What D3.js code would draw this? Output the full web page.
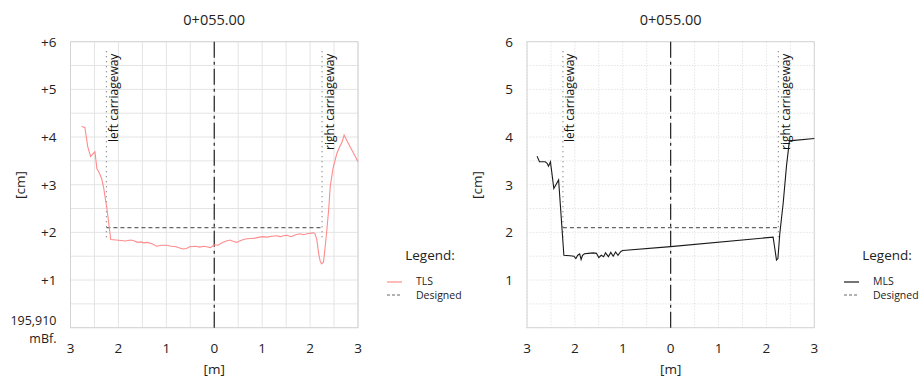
<!DOCTYPE html>
<html>
<head>
<meta charset="utf-8">
<script src="https://cdn.jsdelivr.net/npm/d3@7"></script>
<style>
  body { margin: 0; background: #fff; }
  svg { font-family: "Open Sans", sans-serif; display: block; }
</style>
</head>
<body>
<svg id="chart" width="921" height="378"></svg>
<script>
// cross-section 0+055.00, offsets in metres, heights in cm above 195,910 mBf.
const stationLabel = '0+055.00';
const xTicks = [-3, -2, -1, 0, 1, 2, 3];
const yTicks = [1, 2, 3, 4, 5, 6];
const carriageEdges = [-2.25, 2.25];
const designedLevel = 2.1;

const tlsX = [-2.77, -2.70, -2.64, -2.58, -2.52, -2.49, -2.45, -2.40, -2.35, -2.31, -2.28, -2.24, -2.21,
  -2.16, -2.05, -1.95, -1.85, -1.75, -1.69, -1.60, -1.52, -1.48, -1.40, -1.30, -1.20, -1.10, -0.99,
  -0.90, -0.80, -0.72, -0.65, -0.58, -0.51, -0.40, -0.30, -0.22, -0.16, -0.08, 0.00, 0.08, 0.16,
  0.25, 0.33, 0.40, 0.47, 0.55, 0.65, 0.75, 0.85, 0.95, 1.02, 1.10, 1.20, 1.30, 1.38, 1.44, 1.52,
  1.60, 1.70, 1.79, 1.86, 1.94, 2.00, 2.07, 2.10, 2.14, 2.18, 2.21, 2.24, 2.28, 2.31, 2.35, 2.39,
  2.42, 2.48, 2.56, 2.62, 2.67, 2.71, 2.78, 2.86, 2.93, 3.00];
const tlsY = [4.22, 4.20, 3.80, 3.59, 3.66, 3.69, 3.34, 3.25, 3.13, 2.95, 2.75, 2.50, 2.26,
  1.85, 1.84, 1.83, 1.82, 1.84, 1.83, 1.79, 1.80, 1.78, 1.79, 1.76, 1.71, 1.73, 1.73,
  1.71, 1.70, 1.67, 1.65, 1.66, 1.70, 1.71, 1.69, 1.71, 1.70, 1.68, 1.74, 1.73, 1.78,
  1.82, 1.84, 1.81, 1.79, 1.83, 1.86, 1.87, 1.88, 1.90, 1.91, 1.90, 1.92, 1.93, 1.91, 1.93, 1.94,
  1.91, 1.95, 1.97, 1.95, 1.97, 1.98, 1.99, 1.98, 1.85, 1.55, 1.40, 1.34, 1.38, 1.65, 2.05, 2.50,
  2.96, 3.35, 3.66, 3.80, 3.90, 4.04, 3.90, 3.75, 3.62, 3.48];

const mlsX = [-2.79, -2.74, -2.62, -2.58, -2.55, -2.51, -2.44, -2.34, -2.23, -2.10, -2.02, -1.98, -1.94,
  -1.90, -1.87, -1.84, -1.80, -1.72, -1.62, -1.55, -1.50, -1.45, -1.40, -1.36, -1.30, -1.25, -1.20,
  -1.15, -1.10, -1.04, -1.00, 0.00, 2.14, 2.18, 2.21, 2.24, 2.28, 2.35, 2.42, 2.48, 3.00];
const mlsY = [3.60, 3.48, 3.48, 3.45, 3.39, 3.48, 2.92, 3.10, 1.52, 1.51, 1.50, 1.45, 1.52,
  1.55, 1.43, 1.52, 1.55, 1.56, 1.57, 1.56, 1.47, 1.52, 1.49, 1.57, 1.49, 1.58, 1.50,
  1.59, 1.52, 1.60, 1.62, 1.70, 1.90, 1.63, 1.42, 1.45, 1.98, 2.61, 3.40, 3.92, 3.97];

const panels = [
  { left: 70.5, right: 358, xs: tlsX, ys: tlsY, name: 'TLS', color: '#ff8c8c', signed: true,
    grid: null, axisLabelX: 20, legendX: 387 },
  { left: 527, right: 814.3, xs: mlsX, ys: mlsY, name: 'MLS', color: '#1a1a1a', signed: false,
    grid: '1.5,1.5', axisLabelX: 477, legendX: 844 },
];

const plotTop = 41.7;
const plotBottom = 327.7;
const svg = d3.select('#chart');

panels.forEach((p) => {
  const x = d3.scaleLinear().domain([-3, 3]).range([p.left, p.right]);
  const y = d3.scaleLinear().domain([0, 6]).range([plotBottom, plotTop]);
  const g = svg.append('g');
  const midX = x(0);

  // grid every 0.5
  const gridVals = d3.range(-3, 3.01, 0.5);
  g.selectAll('.vgrid').data(gridVals).join('line')
    .attr('x1', (d) => x(d)).attr('x2', (d) => x(d))
    .attr('y1', plotTop).attr('y2', plotBottom)
    .attr('stroke', '#e4e4e4').attr('stroke-width', 1)
    .attr('stroke-dasharray', p.grid);
  g.selectAll('.hgrid').data(d3.range(0, 6.01, 0.5)).join('line')
    .attr('x1', p.left).attr('x2', p.right)
    .attr('y1', (d) => y(d)).attr('y2', (d) => y(d))
    .attr('stroke', '#e4e4e4').attr('stroke-width', 1)
    .attr('stroke-dasharray', p.grid);
  g.append('rect')
    .attr('x', p.left).attr('y', plotTop)
    .attr('width', p.right - p.left).attr('height', plotBottom - plotTop)
    .attr('fill', 'none').attr('stroke', '#d4d4d4');

  // axes as text labels
  g.selectAll('.xt').data(xTicks).join('text')
    .attr('x', (d) => x(d)).attr('y', 353)
    .attr('text-anchor', 'middle').attr('font-size', 13.5).attr('fill', '#222')
    .text((d) => Math.abs(d));
  g.selectAll('.yt').data(yTicks).join('text')
    .attr('x', p.left - 14).attr('y', (d) => y(d) + 5)
    .attr('text-anchor', 'end').attr('font-size', 13.5).attr('fill', '#222')
    .text((d) => (p.signed ? '+' : '') + d);
  if (p.signed) {
    g.append('text').attr('x', p.left - 14).attr('y', 325)
      .attr('text-anchor', 'end').attr('font-size', 12.5).attr('fill', '#222').text('195,910');
    g.append('text').attr('x', p.left - 14).attr('y', 343)
      .attr('text-anchor', 'end').attr('font-size', 12.5).attr('fill', '#222').text('mBf.');
  }
  g.append('text').attr('x', midX).attr('y', 374)
    .attr('text-anchor', 'middle').attr('font-size', 13.5).attr('fill', '#222').text('[m]');
  g.append('text')
    .attr('transform', `translate(${p.axisLabelX + 5},185) rotate(-90)`)
    .attr('text-anchor', 'middle').attr('font-size', 13.5).attr('fill', '#222').text('[cm]');
  g.append('text').attr('x', midX).attr('y', 25)
    .attr('text-anchor', 'middle').attr('font-size', 14.5).attr('fill', '#222').text(stationLabel);

  // centre line
  g.append('line')
    .attr('x1', midX).attr('x2', midX).attr('y1', plotTop).attr('y2', plotBottom)
    .attr('stroke', '#222').attr('stroke-width', 1.2)
    .attr('stroke-dasharray', '16,4,3,4');

  // carriageway edges
  carriageEdges.forEach((e, i) => {
    g.append('line')
      .attr('x1', x(e)).attr('x2', x(e)).attr('y1', y(5.8)).attr('y2', y(1.85))
      .attr('stroke', '#777').attr('stroke-width', 1.2)
      .attr('stroke-dasharray', '1,4');
    g.append('text')
      .attr('transform', `translate(${x(e) + 11.5},${y(5.75)}) rotate(-90)`)
      .attr('text-anchor', 'end').attr('font-size', 12).attr('fill', '#111')
      .text(i === 0 ? 'left carriageway' : 'right carriageway');
  });

  // designed level
  g.append('line')
    .attr('x1', x(carriageEdges[0])).attr('x2', x(carriageEdges[1]))
    .attr('y1', y(designedLevel)).attr('y2', y(designedLevel))
    .attr('stroke', '#666').attr('stroke-width', 1.2)
    .attr('stroke-dasharray', '4,3');

  // measured profile
  const pts = p.xs.map((d, i) => [d, p.ys[i]]);
  g.append('path')
    .datum(pts)
    .attr('d', d3.line().x((d) => x(d[0])).y((d) => y(d[1])))
    .attr('fill', 'none').attr('stroke', p.color).attr('stroke-width', 1.1);

  // legend
  g.append('text').attr('x', p.legendX + 43).attr('y', 260)
    .attr('text-anchor', 'middle').attr('font-size', 13.5).attr('fill', '#222').text('Legend:');
  g.append('line').attr('x1', p.legendX).attr('x2', p.legendX + 15).attr('y1', 282).attr('y2', 282)
    .attr('stroke', p.color).attr('stroke-width', 1.2);
  g.append('line').attr('x1', p.legendX).attr('x2', p.legendX + 15).attr('y1', 295).attr('y2', 295)
    .attr('stroke', '#666').attr('stroke-dasharray', '3,2');
  g.append('text').attr('x', p.legendX + 29).attr('y', 284.5)
    .attr('font-size', 10.5).attr('fill', '#222').text(p.name);
  g.append('text').attr('x', p.legendX + 29).attr('y', 299)
    .attr('font-size', 10.5).attr('fill', '#222').text('Designed');
});
</script>
</body>
</html>
